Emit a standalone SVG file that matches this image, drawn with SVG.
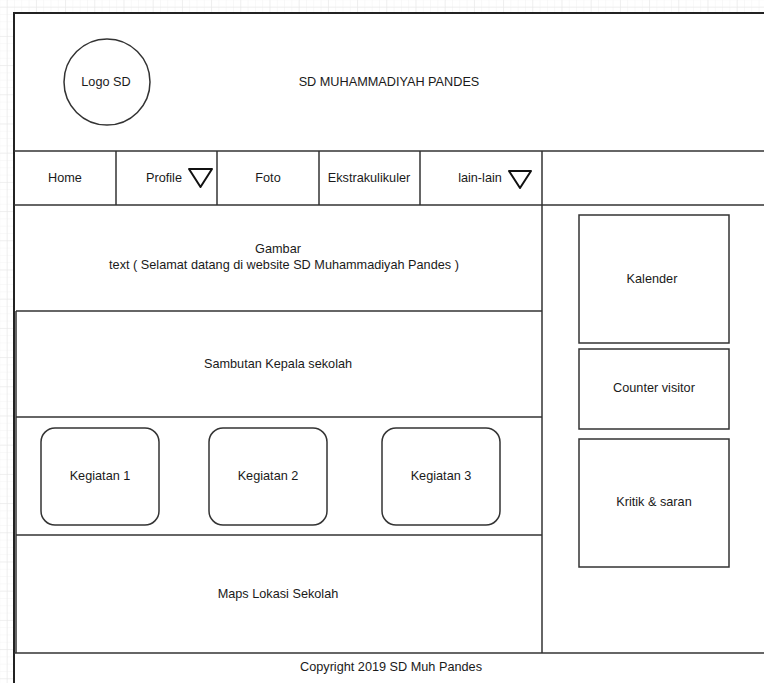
<svg xmlns="http://www.w3.org/2000/svg" width="764" height="683" viewBox="0 0 764 683">
<defs>
<pattern id="minor" x="6.7" y="6.7" width="7.3" height="7.3" patternUnits="userSpaceOnUse">
<path d="M0 0V7.3M0 0H7.3" fill="none" stroke="#f3f3f3" stroke-width="1"/>
</pattern>
<pattern id="major" x="6.7" y="6.7" width="29.2" height="29.2" patternUnits="userSpaceOnUse">
<path d="M0 0V29.2M0 0H29.2" fill="none" stroke="#e6e6e6" stroke-width="1"/>
</pattern>
</defs>
<style>
.b{fill:#fff;stroke:#333;stroke-width:1.5}
.l{stroke:#333;stroke-width:1.5;fill:none}
.t{font-family:"Liberation Sans",Arial,sans-serif;font-size:12.7px;fill:#1a1a1a;text-anchor:middle;dominant-baseline:central}
</style>
<rect width="764" height="683" fill="#fff"/>
<rect width="764" height="683" fill="url(#minor)"/>
<rect width="764" height="683" fill="url(#major)"/>

<g id="page">
<rect x="14" y="13" width="760" height="680" fill="#fff" stroke="#222" stroke-width="2"/>
</g>

<g id="header">
<line class="l" x1="14" y1="151" x2="764" y2="151"/>
<text class="t" x="389" y="82">SD MUHAMMADIYAH PANDES</text>
</g>
<g id="logo">
<circle class="b" cx="107" cy="82" r="43"/>
<text class="t" x="106" y="82">Logo SD</text>
</g>

<g id="nav">
<line class="l" x1="14" y1="205" x2="764" y2="205"/>
<line class="l" x1="116" y1="151" x2="116" y2="205"/>
<line class="l" x1="217" y1="151" x2="217" y2="205"/>
<line class="l" x1="319" y1="151" x2="319" y2="205"/>
<line class="l" x1="420" y1="151" x2="420" y2="205"/>
<line class="l" x1="542" y1="151" x2="542" y2="653"/>
</g>
<g id="nav-home"><text class="t" x="65" y="178">Home</text></g>
<g id="nav-profile"><text class="t" x="164" y="178">Profile</text>
<polygon points="189,169 212,169 200.5,187" fill="#fff" stroke="#111" stroke-width="2" stroke-linejoin="round"/></g>
<g id="nav-foto"><text class="t" x="268" y="178">Foto</text></g>
<g id="nav-ekstra"><text class="t" x="369" y="178">Ekstrakulikuler</text></g>
<g id="nav-lain"><text class="t" x="480" y="178">lain-lain</text>
<polygon points="509,171 531,171 520,188" fill="#fff" stroke="#111" stroke-width="2" stroke-linejoin="round"/></g>

<g id="gambar">
<line class="l" x1="16" y1="311" x2="542" y2="311"/>
<text class="t" x="278" y="249">Gambar</text>
<text class="t" x="284" y="265">text ( Selamat datang di website SD Muhammadiyah Pandes )</text>
</g>
<g id="sambutan">
<line class="l" x1="16" y1="311" x2="16" y2="653"/>
<line class="l" x1="16" y1="417" x2="542" y2="417"/>
<text class="t" x="278" y="364">Sambutan Kepala sekolah</text>
</g>
<g id="kegiatan">
<line class="l" x1="16" y1="535" x2="542" y2="535"/>
</g>
<g id="kegiatan1"><rect class="b" x="41" y="428" width="118" height="97" rx="14"/><text class="t" x="100" y="476">Kegiatan 1</text></g>
<g id="kegiatan2"><rect class="b" x="209" y="428" width="118" height="97" rx="14"/><text class="t" x="268" y="476">Kegiatan 2</text></g>
<g id="kegiatan3"><rect class="b" x="382" y="428" width="118" height="97" rx="14"/><text class="t" x="441" y="476">Kegiatan 3</text></g>
<g id="maps"><text class="t" x="278" y="594">Maps Lokasi Sekolah</text></g>

<g id="kalender"><rect class="b" x="579" y="215" width="150" height="128"/><text class="t" x="652" y="279">Kalender</text></g>
<g id="counter"><rect class="b" x="579" y="349" width="150" height="80"/><text class="t" x="654" y="388">Counter visitor</text></g>
<g id="kritik"><rect class="b" x="579" y="439" width="150" height="128"/><text class="t" x="654" y="502">Kritik &amp; saran</text></g>

<g id="footer">
<line class="l" x1="14" y1="653" x2="764" y2="653"/>
<text class="t" x="391" y="667">Copyright 2019 SD Muh Pandes</text>
</g>
<g id="connectors"></g>
</svg>
